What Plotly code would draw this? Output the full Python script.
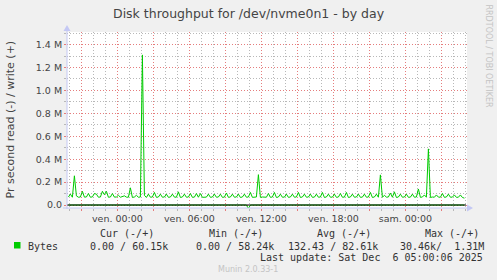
import pandas as pd
import plotly.graph_objects as go

# ---------------- data ----------------
write_start = "2025-12-04 19:55"
write_step = "10min"
# write bytes per second (k)
write_k = [
    70, 95, 68, 255, 80, 68, 70, 120, 69, 70,
    100, 68, 71, 100, 95, 68, 70, 120, 90, 120,
    68, 70, 100, 69, 70, 85, 68, 71, 80, 69,
    68, 150, 66, 70, 85, 68, 70, 1310, 85, 66,
    95, 68, 70, 110, 67, 70, 95, 68, 70, 95,
    67, 70, 95, 69, 68, 115, 66, 70, 95, 68,
    70, 100, 67, 69, 100, 68, 100, 67, 70, 69,
    95, 67, 70, 95, 68, 70, 95, 67, 69, 105,
    67, 70, 95, 68, 70, 95, 66, 70, 95, 68,
    70, 110, 67, 69, 70, 265, 67, 70, 69, 68,
    100, 67, 70, 110, 66, 70, 95, 68, 69, 95,
    67, 70, 95, 68, 70, 110, 66, 70, 95, 68,
    70, 95, 67, 69, 95, 68, 70, 110, 66, 70,
    95, 68, 69, 95, 67, 70, 100, 68, 69, 110,
    66, 70, 95, 68, 70, 95, 67, 69, 95, 68,
    70, 110, 66, 70, 95, 68, 263, 67, 85, 69,
    70, 105, 68, 115, 66, 70, 95, 68, 70, 95,
    67, 69, 95, 68, 70, 140, 67, 70, 88, 68,
    490, 66, 70, 68, 88, 69, 68, 100, 67, 70,
    95, 68, 69, 88, 67, 68, 88, 66, 60,
]
read_times = ["2025-12-04 19:55", "2025-12-05 10:45", "2025-12-05 10:55",
              "2025-12-05 11:05", "2025-12-06 04:55"]
read_vals = [0, 0, -30460, 0, 0]

x_range = ["2025-12-04 19:48", "2025-12-06 05:08"]
x_tickvals = ["2025-12-04 21:00", "2025-12-05 00:00", "2025-12-05 03:00",
              "2025-12-05 06:00", "2025-12-05 09:00", "2025-12-05 12:00",
              "2025-12-05 15:00", "2025-12-05 18:00", "2025-12-05 21:00",
              "2025-12-06 00:00", "2025-12-06 03:00"]
x_ticktext = ["", "ven. 00:00", "", "ven. 06:00", "", "ven. 12:00",
              "", "ven. 18:00", "", "sam. 00:00", ""]
y_tickvals = [0, 200000, 400000, 600000, 800000, 1000000, 1200000, 1400000]
y_ticktext = ["0.0", "0.2 M", "0.4 M", "0.6 M", "0.8 M", "1.0 M", "1.2 M", "1.4 M"]

title = "Disk throughput for /dev/nvme0n1 - by day"
y_title = "Pr second read (-) / write (+)"
legend_headers = ["Cur (-/+)", "Min (-/+)", "Avg (-/+)", "Max (-/+)"]
legend_values = ["0.00 / 60.15k", "0.00 / 58.24k", "132.43 / 82.61k", "30.46k/  1.31M"]
series_name = "Bytes"
last_update = "Last update: Sat Dec  6 05:00:06 2025"
footer = "Munin 2.0.33-1"
side_text = "RRDTOOL / TOBI OETIKER"

# ---------------- figure ----------------
W, H = 497, 280
L, R, T, B = 67, 30, 32, 72
PW, PH = W - L - R, H - T - B


def px(x):
    return (x - L) / PW


def py(y):
    return (T + PH - y) / PH


GREEN = "#00CC00"
write_times = pd.date_range(write_start, periods=len(write_k), freq=write_step)
write_vals = [v * 1000 for v in write_k]

fig = go.Figure()
fig.add_trace(go.Scatter(x=read_times, y=read_vals, mode="lines",
                         line=dict(color=GREEN, width=1), hoverinfo="skip",
                         showlegend=False))
fig.add_trace(go.Scatter(x=write_times, y=write_vals, mode="lines",
                         line=dict(color=GREEN, width=1), hoverinfo="skip",
                         showlegend=False))

tick_font = dict(family="DejaVu Sans", size=9.5, color="#444444")
MAJ = "rgba(240,110,110,0.8)"
MIN = "#B8B8B8"

fig.update_xaxes(
    type="date", range=x_range, tickmode="array", tickvals=x_tickvals,
    ticktext=x_ticktext, showgrid=True, gridcolor=MAJ, griddash="1px,2px",
    gridwidth=1, ticks="outside", ticklen=2, tickcolor=MAJ, tickfont=tick_font,
    zeroline=False, showline=False,
    minor=dict(dtick=3600000, tick0="2025-12-05 00:00", showgrid=True,
               gridcolor=MIN, griddash="1px,2px", gridwidth=1,
               ticks="outside", ticklen=2, tickcolor=MIN),
)
fig.update_yaxes(
    range=[-26000, 1510000], tickmode="array", tickvals=y_tickvals,
    ticktext=y_ticktext, showgrid=True, gridcolor=MAJ, griddash="1px,2px",
    gridwidth=1, ticks="outside", ticklen=2, tickcolor=MAJ, tickfont=tick_font,
    zeroline=False, showline=False,
    minor=dict(dtick=100000, tick0=0, showgrid=True, gridcolor=MIN,
               griddash="1px,2px", gridwidth=1, ticks="outside", ticklen=2,
               tickcolor=MIN),
)

AX = "#C4C8F4"
shapes = [
    # zero rule
    dict(type="line", xref="paper", yref="y", x0=0, x1=px(466), y0=0, y1=0,
         line=dict(color="#000000", width=1.2), layer="above"),
    # axis lines
    dict(type="line", xref="paper", yref="paper", x0=0, x1=0, y0=py(209), y1=py(28),
         line=dict(color=AX, width=1), layer="above"),
    dict(type="line", xref="paper", yref="paper", x0=px(63), x1=px(470), y0=0, y1=0,
         line=dict(color=AX, width=1), layer="above"),
    # arrows
    dict(type="path", xref="paper", yref="paper",
         path=f"M {px(63.5)} {py(31)} L {px(70.5)} {py(31)} L {px(67)} {py(25)} Z",
         fillcolor=AX, line=dict(color=AX, width=0), layer="above"),
    dict(type="path", xref="paper", yref="paper",
         path=f"M {px(467)} {py(204.5)} L {px(467)} {py(211.5)} L {px(473)} {py(208)} Z",
         fillcolor=AX, line=dict(color=AX, width=0), layer="above"),
    # legend swatch
    dict(type="rect", xref="paper", yref="paper", x0=px(14), x1=px(20.5),
         y0=py(248.5), y1=py(242), fillcolor=GREEN, line=dict(width=0)),
]

mono = dict(family="DejaVu Sans Mono", size=10, color="#333333")
ann = []


def add_text(text, x, y, font, xanchor="left", yanchor="middle", angle=0):
    ann.append(dict(text=text, x=px(x), y=py(y), xref="paper", yref="paper",
                    xanchor=xanchor, yanchor=yanchor, showarrow=False,
                    font=font, textangle=angle, borderpad=0))


add_text(title, 248.5, 14, dict(family="DejaVu Sans", size=12.5, color="#444444"),
         xanchor="center")
add_text(y_title, 10, 119.5, dict(family="DejaVu Sans", size=11, color="#444444"),
         xanchor="center", angle=-90)
add_text(side_text, 488.5, 56, dict(family="DejaVu Sans", size=8, color="#C4C4C4"),
         xanchor="center", angle=90)

header_x = [98.7, 207.7, 316, 423.7]
value_x = [89.3, 194.7, 287, 398.7]
for t, x in zip(legend_headers, header_x):
    add_text(t, x, 233.3, mono)
add_text(series_name, 26.7, 246, mono)
for t, x in zip(legend_values, value_x):
    add_text(t.replace(" ", "\u00a0"), x, 246, mono)
add_text(last_update.replace(" ", "\u00a0"), 483.7, 257.7, mono, xanchor="right")
add_text(footer, 248, 269, dict(family="DejaVu Sans", size=8, color="#C4C4C4"),
         xanchor="center")

fig.update_layout(
    width=W, height=H, margin=dict(l=L, r=R, t=T, b=B, pad=0),
    paper_bgcolor="#F0F0F0", plot_bgcolor="#FFFFFF",
    shapes=shapes, annotations=ann, showlegend=False,
)

fig.write_html("out.html")
